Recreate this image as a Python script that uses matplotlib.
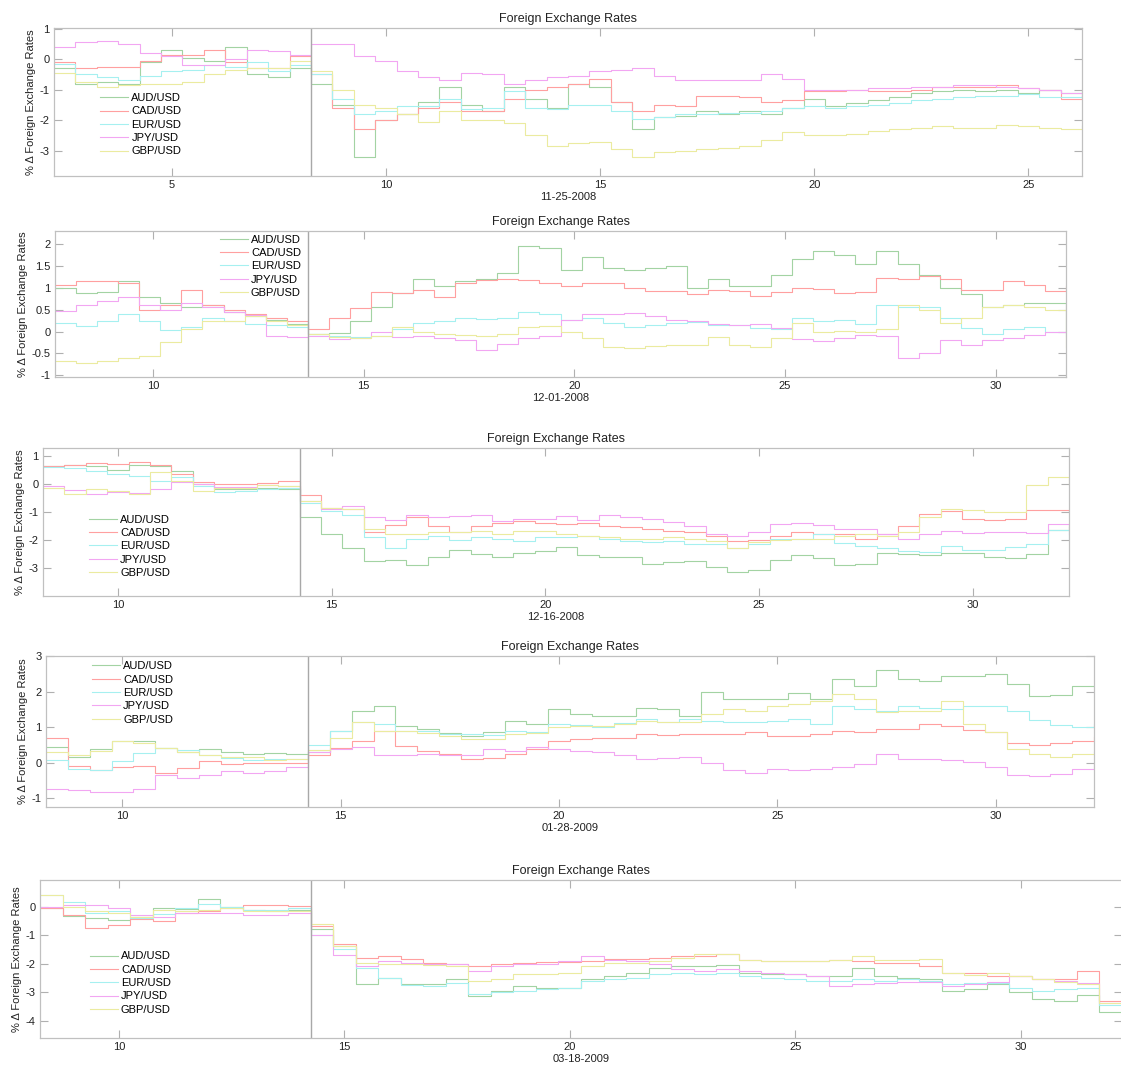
import numpy as np
import matplotlib
matplotlib.use("Agg")
import matplotlib.pyplot as plt

plt.rcParams['font.family'] = ['Liberation Sans', 'DejaVu Sans']

# currency pairs and line colours
pairs = ['AUD/USD', 'CAD/USD', 'EUR/USD', 'JPY/USD', 'GBP/USD']
colors = ['#a3d3a3', '#ffa0a0', '#a6f0f0', '#f2a6f2', '#ebeba0']

# ---------------- 11-25-2008 ----------------
hours_1 = np.arange(2.25, 26.26, 0.5)
event_1 = 8.25
aud_1 = [-0.3, -0.8, -0.75, -0.8, -0.1, 0.3, 0.05, -0.05, 0.4, -0.5, -0.6, -0.3,
         -0.8, -1.5, -3.2, -2.0, -1.8, -1.4, -0.9, -1.5, -1.7, -0.9, -1.3, -1.6,
         -0.8, -0.9, -1.4, -2.3, -1.9, -1.85, -1.7, -1.8, -1.7, -1.8, -1.6, -1.3,
         -1.55, -1.45, -1.35, -1.25, -1.1, -1.05, -1.0, -1.05, -1.0, -1.1, -1.0, -1.1, -1.0]
cad_1 = [-0.1, -0.3, -0.25, -0.25, -0.05, 0.15, 0.15, 0.3, -0.1, -0.3, -0.3, 0.1,
         -0.5, -1.6, -2.3, -2.0, -1.8, -1.6, -1.4, -1.7, -1.7, -1.3, -1.0, -0.9,
         -0.8, -0.65, -1.4, -1.7, -1.5, -1.55, -1.2, -1.2, -1.25, -1.4, -1.35, -1.05,
         -1.05, -1.0, -1.05, -1.05, -1.0, -0.9, -0.9, -0.9, -0.85, -0.95, -1.0, -1.3, -1.2]
eur_1 = [-0.15, -0.5, -0.6, -0.7, -0.55, -0.4, -0.35, -0.2, -0.25, -0.1, -0.4, -0.2,
         -0.5, -1.3, -1.8, -1.7, -1.55, -1.55, -1.3, -1.65, -1.6, -1.05, -1.6, -1.65,
         -1.5, -1.5, -1.7, -1.95, -1.9, -1.8, -1.8, -1.75, -1.75, -1.7, -1.6, -1.55,
         -1.6, -1.55, -1.5, -1.45, -1.35, -1.3, -1.25, -1.2, -1.2, -1.15, -1.25, -1.25, -1.2]
jpy_1 = [0.4, 0.55, 0.6, 0.5, 0.2, 0.1, -0.2, -0.2, 0.0, 0.3, 0.25, 0.15,
         0.5, 0.5, 0.1, -0.05, -0.4, -0.6, -0.7, -0.45, -0.5, -0.8, -0.7, -0.6,
         -0.55, -0.4, -0.35, -0.3, -0.55, -0.7, -0.7, -0.7, -0.7, -0.5, -0.65, -1.0,
         -1.0, -1.0, -0.95, -0.95, -0.9, -0.9, -0.85, -0.85, -0.9, -0.95, -1.0, -1.1, -1.2]
gbp_1 = [-0.45, -0.75, -0.9, -0.85, -0.8, -0.8, -0.75, -0.5, -0.35, -0.3, -0.3, -0.05,
         -0.4, -1.0, -1.5, -1.6, -1.8, -2.05, -1.7, -2.0, -2.0, -2.1, -2.5, -2.85,
         -2.75, -2.7, -2.95, -3.2, -3.05, -3.0, -2.95, -2.9, -2.85, -2.65, -2.4, -2.5,
         -2.5, -2.45, -2.35, -2.3, -2.25, -2.2, -2.25, -2.25, -2.15, -2.2, -2.25, -2.3, -2.2]

# ---------------- 12-01-2008 ----------------
hours_2 = np.arange(7.67, 31.68, 0.5)
event_2 = 13.67
aud_2 = [1.0, 0.88, 0.9, 1.15, 0.8, 0.65, 0.55, 0.6, 0.45, 0.35, 0.27, 0.18,
         -0.05, -0.03, 0.25, 0.55, 0.88, 1.2, 1.05, 1.15, 1.2, 1.35, 1.95, 1.9,
         1.4, 1.7, 1.45, 1.4, 1.45, 1.5, 1.0, 1.2, 1.05, 1.05, 1.3, 1.65,
         1.85, 1.75, 1.55, 1.85, 1.55, 1.3, 1.0, 0.85, 0.55, 0.6, 0.65, 0.65, 0.0]
cad_2 = [1.07, 1.15, 1.15, 1.1, 0.5, 0.6, 0.95, 0.6, 0.5, 0.4, 0.3, 0.25,
         0.05, 0.31, 0.54, 0.9, 0.88, 0.95, 0.8, 1.12, 1.18, 1.2, 1.17, 1.1,
         1.05, 1.1, 1.1, 1.0, 0.92, 0.92, 0.85, 0.95, 0.92, 0.82, 0.9, 1.0,
         0.97, 0.88, 0.9, 1.22, 1.2, 1.26, 1.2, 0.96, 0.95, 1.15, 1.07, 0.92, 1.04]
eur_2 = [0.2, 0.12, 0.25, 0.4, 0.24, 0.03, 0.1, 0.3, 0.25, 0.18, 0.16, 0.1,
         -0.05, -0.1, -0.12, -0.1, 0.05, 0.2, 0.25, 0.32, 0.28, 0.3, 0.45, 0.4,
         0.27, 0.32, 0.2, 0.1, 0.15, 0.2, 0.22, 0.15, 0.15, 0.08, 0.06, 0.3,
         0.23, 0.27, 0.18, 0.6, 0.55, 0.55, 0.3, 0.08, -0.06, 0.05, 0.1, 0.0, -0.1]
jpy_2 = [0.48, 0.6, 0.7, 0.78, 0.6, 0.5, 0.65, 0.55, 0.45, 0.37, -0.1, -0.12,
         -0.1, -0.17, -0.14, 0.0, -0.12, -0.1, -0.14, -0.2, -0.42, -0.28, -0.15, -0.1,
         0.27, 0.4, 0.39, 0.42, 0.35, 0.27, 0.25, 0.17, 0.16, 0.18, 0.08, -0.16,
         -0.22, -0.15, -0.08, -0.1, -0.6, -0.5, -0.2, -0.3, -0.2, -0.15, -0.08, 0.0, 0.0]
gbp_2 = [-0.68, -0.72, -0.68, -0.6, -0.55, -0.25, 0.05, 0.25, 0.25, 0.35, 0.25, 0.15,
         -0.05, -0.12, -0.15, -0.1, 0.1, 0.0, -0.05, -0.08, -0.1, -0.05, 0.1, 0.12,
         0.0, -0.15, -0.35, -0.38, -0.33, -0.3, -0.3, -0.12, -0.3, -0.35, -0.15, 0.2,
         0.0, 0.02, 0.0, 0.05, 0.6, 0.5, 0.2, 0.3, 0.55, 0.6, 0.55, 0.5, -0.35]

# ---------------- 12-16-2008 ----------------
hours_3 = np.arange(8.25, 32.26, 0.5)
event_3 = 14.25
aud_3 = [0.62, 0.68, 0.62, 0.5, 0.65, 0.62, 0.45, 0.0, -0.2, -0.2, -0.15, -0.2,
         -1.2, -1.8, -2.3, -2.75, -2.7, -2.9, -2.6, -2.35, -2.5, -2.6, -2.45, -2.4,
         -2.25, -2.55, -2.62, -2.62, -2.85, -2.78, -2.75, -2.95, -3.15, -3.05, -2.7, -2.55,
         -2.65, -2.9, -2.85, -2.45, -2.5, -2.55, -2.45, -2.45, -2.6, -2.65, -2.5, -1.65, -1.55]
cad_3 = [0.62, 0.65, 0.74, 0.7, 0.78, 0.68, 0.35, 0.05, -0.02, 0.0, 0.03, 0.1,
         -0.4, -0.85, -0.9, -1.7, -1.45, -1.2, -1.5, -1.7, -1.5, -1.38, -1.33, -1.38,
         -1.44, -1.4, -1.5, -1.55, -1.6, -1.67, -1.73, -1.85, -2.02, -2.0, -1.85, -1.73,
         -1.78, -1.8, -1.95, -1.8, -1.5, -1.08, -0.96, -1.26, -1.3, -1.25, -0.92, -0.95, -0.96]
eur_3 = [0.6, 0.55, 0.45, 0.33, 0.27, 0.1, 0.25, -0.08, -0.3, -0.26, -0.2, -0.15,
         -0.7, -0.96, -1.1, -1.9, -2.3, -1.95, -1.85, -2.0, -1.9, -1.95, -2.02, -1.9,
         -1.9, -1.87, -1.95, -2.02, -2.08, -2.02, -2.14, -2.14, -2.3, -2.14, -1.95, -1.95,
         -1.78, -2.1, -2.2, -2.3, -2.38, -2.42, -2.2, -2.35, -2.35, -2.25, -2.15, -1.65, -1.97]
jpy_3 = [-0.08, -0.22, -0.38, -0.28, -0.32, -0.2, 0.05, 0.0, -0.12, -0.1, -0.03, -0.08,
         -0.6, -0.9, -0.8, -1.2, -1.28, -1.1, -1.2, -1.15, -1.1, -1.32, -1.27, -1.27,
         -1.14, -1.3, -1.1, -1.18, -1.25, -1.35, -1.5, -1.8, -1.85, -1.72, -1.44, -1.4,
         -1.45, -1.62, -1.6, -1.8, -1.95, -1.8, -1.67, -1.75, -1.73, -1.73, -1.75, -1.44, -1.8]
gbp_3 = [-0.14, -0.38, -0.2, -0.26, -0.38, 0.4, 0.1, -0.25, -0.15, -0.14, -0.05, -0.08,
         -0.6, -0.85, -0.9, -1.6, -1.8, -1.78, -1.73, -1.73, -1.68, -1.8, -1.68, -1.68,
         -1.8, -1.85, -1.9, -1.96, -1.96, -1.9, -1.96, -2.05, -2.3, -2.08, -2.0, -1.96,
         -1.96, -1.85, -1.8, -1.85, -1.7, -1.2, -0.9, -0.95, -1.0, -1.02, -0.05, 0.25, 0.0]

# ---------------- 01-28-2009 ----------------
hours_4 = np.arange(8.25, 32.26, 0.5)
event_4 = 14.25
aud_4 = [0.43, 0.15, 0.38, 0.62, 0.6, 0.4, 0.29, 0.38, 0.3, 0.24, 0.28, 0.25,
         0.3, 0.9, 1.45, 1.6, 1.04, 0.94, 0.82, 0.76, 0.85, 1.18, 1.1, 1.5,
         1.38, 1.32, 1.3, 1.55, 1.5, 1.3, 2.0, 1.78, 1.78, 1.8, 1.95, 1.78,
         2.35, 2.15, 2.6, 2.34, 2.3, 2.45, 2.45, 2.48, 2.2, 1.87, 1.9, 2.15, 2.15]
cad_4 = [0.7, -0.1, -0.22, -0.13, -0.1, -0.3, -0.15, 0.05, -0.04, 0.0, 0.0, 0.0,
         0.2, 0.4, 0.62, 0.88, 0.48, 0.34, 0.24, 0.1, 0.12, 0.24, 0.38, 0.6,
         0.66, 0.7, 0.7, 0.8, 0.78, 0.8, 0.8, 0.8, 0.85, 0.75, 0.76, 0.8,
         0.9, 0.85, 0.94, 0.94, 1.08, 1.03, 0.93, 0.85, 0.55, 0.5, 0.55, 0.62, 0.71]
eur_4 = [0.06, -0.18, -0.2, 0.05, 0.28, 0.4, 0.35, 0.2, 0.12, 0.06, 0.1, 0.1,
         0.5, 0.9, 1.15, 1.1, 0.9, 0.9, 0.8, 0.8, 0.78, 0.9, 0.85, 1.08,
         1.05, 1.0, 1.12, 1.22, 1.15, 1.22, 1.18, 1.13, 1.13, 1.18, 1.22, 1.08,
         1.58, 1.5, 1.46, 1.6, 1.55, 1.5, 1.6, 1.6, 1.45, 1.2, 1.05, 0.99, 1.08]
jpy_4 = [-0.74, -0.78, -0.83, -0.83, -0.74, -0.35, -0.42, -0.35, -0.25, -0.3, -0.25, -0.13,
         0.3, 0.38, 0.45, 0.2, 0.22, 0.25, 0.2, 0.22, 0.38, 0.34, 0.43, 0.38,
         0.34, 0.3, 0.2, 0.1, 0.12, 0.15, 0.0, -0.2, -0.3, -0.18, -0.22, -0.18,
         -0.13, -0.05, 0.25, 0.1, 0.1, 0.06, 0.02, -0.13, -0.35, -0.37, -0.32, -0.18, -0.05]
gbp_4 = [0.29, 0.2, 0.34, 0.6, 0.55, 0.4, 0.3, 0.2, 0.15, 0.15, 0.06, 0.1,
         0.35, 0.7, 1.13, 0.9, 0.9, 0.82, 0.76, 0.66, 0.66, 0.8, 0.84, 1.0,
         1.04, 1.04, 1.08, 1.18, 1.13, 1.13, 1.36, 1.5, 1.45, 1.6, 1.65, 1.74,
         1.92, 1.8, 1.41, 1.44, 1.46, 1.74, 1.1, 0.85, 0.38, 0.24, 0.15, 0.24, 0.29]

# ---------------- 03-18-2009 ----------------
hours_5 = np.arange(8.25, 32.26, 0.5)
event_5 = 14.25
aud_5 = [-0.06, -0.32, -0.41, -0.46, -0.35, -0.06, -0.1, 0.25, -0.02, -0.12, -0.17, -0.12,
         -0.8, -1.4, -2.72, -2.5, -2.72, -2.72, -2.55, -3.15, -2.96, -2.8, -2.84, -2.84,
         -2.55, -2.43, -2.32, -2.14, -2.09, -2.1, -2.05, -2.32, -2.38, -2.38, -2.43, -2.43,
         -2.14, -2.43, -2.5, -2.55, -2.96, -2.9, -2.72, -3.01, -3.25, -3.3, -3.1, -3.7, -3.9]
cad_5 = [-0.06, -0.3, -0.75, -0.64, -0.45, -0.5, -0.23, -0.15, -0.05, 0.06, 0.06, 0.03,
         -0.7, -1.3, -1.8, -1.74, -1.85, -1.97, -2.03, -2.09, -2.03, -1.97, -1.93, -1.93,
         -1.9, -1.85, -1.85, -1.8, -1.74, -1.72, -1.68, -1.86, -1.91, -1.91, -1.91, -1.86,
         -1.91, -1.97, -1.97, -2.09, -2.32, -2.32, -2.43, -2.43, -2.55, -2.55, -2.26, -3.3, -3.45]
eur_5 = [0.4, 0.17, -0.23, -0.15, -0.41, -0.25, -0.05, 0.1, -0.02, -0.12, -0.12, -0.06,
         -1.0, -1.5, -2.15, -2.5, -2.75, -2.78, -2.67, -3.07, -3.01, -2.95, -2.9, -2.84,
         -2.6, -2.55, -2.49, -2.38, -2.32, -2.38, -2.32, -2.43, -2.49, -2.55, -2.6, -2.6,
         -2.55, -2.6, -2.55, -2.6, -2.72, -2.67, -2.67, -2.84, -2.96, -2.9, -2.84, -3.45, -3.5]
jpy_5 = [0.0, 0.06, 0.06, -0.05, -0.3, -0.35, -0.23, -0.23, -0.23, -0.3, -0.29, -0.23,
         -1.0, -1.7, -2.1, -1.91, -1.97, -2.03, -2.03, -2.25, -2.1, -2.03, -2.03, -1.9,
         -1.75, -1.86, -1.9, -2.03, -2.2, -2.26, -2.2, -2.26, -2.32, -2.38, -2.43, -2.78,
         -2.72, -2.67, -2.63, -2.63, -2.78, -2.7, -2.63, -2.43, -2.55, -2.6, -2.67, -3.4, -3.55]
gbp_5 = [0.4, 0.0, -0.17, -0.23, -0.35, -0.12, -0.15, -0.12, -0.06, -0.17, -0.17, -0.17,
         -0.6, -1.4, -1.97, -2.0, -2.03, -2.06, -2.09, -2.6, -2.55, -2.38, -2.35, -2.32,
         -2.09, -1.97, -1.97, -1.9, -1.8, -1.68, -1.68, -1.86, -1.91, -1.91, -1.91, -1.86,
         -1.74, -1.86, -1.86, -1.85, -2.32, -2.4, -2.32, -2.45, -2.55, -2.65, -2.72, -3.4, -3.54]

dates = ['11-25-2008', '12-01-2008', '12-16-2008', '01-28-2009', '03-18-2009']
hours = [hours_1, hours_2, hours_3, hours_4, hours_5]
events = [event_1, event_2, event_3, event_4, event_5]
series = [[aud_1, cad_1, eur_1, jpy_1, gbp_1],
          [aud_2, cad_2, eur_2, jpy_2, gbp_2],
          [aud_3, cad_3, eur_3, jpy_3, gbp_3],
          [aud_4, cad_4, eur_4, jpy_4, gbp_4],
          [aud_5, cad_5, eur_5, jpy_5, gbp_5]]
yticks = [[-3, -2, -1, 0, 1],
          [-1, -0.5, 0, 0.5, 1, 1.5, 2],
          [-3, -2, -1, 0, 1],
          [-1, 0, 1, 2, 3],
          [-4, -3, -2, -1, 0]]
ylims = [(-3.83, 1.02), (-1.04, 2.30), (-3.99, 1.27), (-1.25, 3.0), (-4.61, 0.93)]

# axes boxes in pixels: left, right, top, bottom
W, H = 1121, 1070
boxes = [(54, 1082, 28, 176), (55, 1066, 231, 377), (43, 1069, 448, 596),
         (46, 1094, 656, 807), (40, 1122, 880, 1038)]
legend_at = [(0.045, 0.56), (0.163, 0.975), (0.045, 0.55), (0.044, 0.965), (0.046, 0.548)]

fig = plt.figure(figsize=(W / 100, H / 100), dpi=100)
for i in range(5):
    l, r, t, b = boxes[i]
    ax = fig.add_axes([l / W, 1 - b / H, (r - l) / W, (b - t) / H])
    for name, c, vals in zip(pairs, colors, series[i]):
        ax.step(hours[i], vals, where='post', color=c, lw=0.8, label=name)
    ax.axvline(events[i], color='#a8a8a8', lw=1.0)
    ax.set_xlim(hours[i][0], hours[i][-1])
    ax.set_ylim(*ylims[i])
    ax.set_xticks([v for v in range(5, 35, 5) if hours[i][0] <= v <= hours[i][-1]])
    ax.set_yticks(yticks[i])
    ax.set_yticklabels(['%g' % v for v in yticks[i]])
    ax.tick_params(direction='in', length=6, width=0.8, color='#b0b0b0',
                   labelsize=8, labelcolor='#222222', top=True, right=True, pad=3)
    for sp in ax.spines.values():
        sp.set_color('#c0c0c0')
        sp.set_linewidth(0.9)
    ax.set_title('Foreign Exchange Rates', fontsize=9, color='#222222', pad=4)
    ax.set_xlabel(dates[i], fontsize=8, color='#222222', labelpad=1)
    ax.set_ylabel('% \u0394 Foreign Exchange Rates', fontsize=8, color='#222222', labelpad=3)
    ax.legend(loc='upper left', bbox_to_anchor=legend_at[i], frameon=False, fontsize=8,
              handlelength=2.5, handletextpad=0.3, labelspacing=0.3, borderpad=0,
              borderaxespad=0)

fig.savefig('out.png', dpi=100)
